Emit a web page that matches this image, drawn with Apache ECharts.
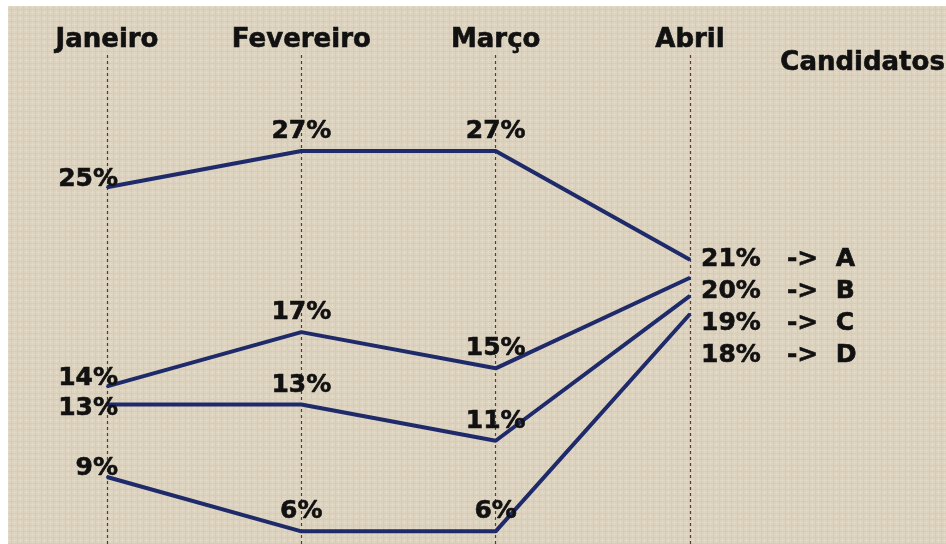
<!DOCTYPE html>
<html>
<head>
<meta charset="utf-8">
<script src="https://cdn.jsdelivr.net/npm/echarts@6/dist/echarts.min.js"></script>
<style>
  html, body { margin: 0; padding: 0; background: #fff; }
  #chart { position: absolute; left: 8px; top: 6px; width: 938px; height: 538px; }
</style>
</head>
<body>
<div id="chart"></div>
<script>
// months across the top
var months = ['Janeiro', 'Fevereiro', 'Março', 'Abril'];
// candidates
var candidates = ['A', 'B', 'C', 'D'];
// percentages per candidate, Jan..Abr
var serieA = [25, 27, 27, 21];
var serieB = [14, 17, 15, 20];
var serieC = [13, 13, 11, 19];
var serieD = [9, 6, 6, 18];
var allSeries = [serieA, serieB, serieC, serieD];

// paper-like texture behind the chart
function makeTexture() {
  var c = document.createElement('canvas');
  c.width = 6; c.height = 6;
  var ctx = c.getContext('2d');
  ctx.fillStyle = '#dcd2be';
  ctx.fillRect(0, 0, 6, 6);
  ctx.fillStyle = '#e1d8c6';
  ctx.fillRect(0, 0, 6, 1);
  ctx.fillRect(0, 0, 1, 6);
  ctx.fillStyle = '#d7ccb8';
  ctx.fillRect(0, 3, 6, 1);
  ctx.fillRect(3, 0, 1, 6);
  return c.toDataURL();
}
document.getElementById('chart').style.background = 'url(' + makeTexture() + ') repeat';

var font = 'DejaVu Sans';
var textColor = '#111';
var lineColor = '#1f2a6a';

// label placement depends on the month column
// dy = extra vertical shift used to keep stacked labels apart
function labelFor(i, name, dy) {
  var base = {
    show: true,
    fontFamily: font,
    fontWeight: 'bold',
    fontSize: 25,
    color: textColor,
    textBorderColor: textColor,
    textBorderWidth: 0.6
  };
  if (i === 0) {
    base.position = 'left';
    base.distance = 0;
    base.offset = [12, -8 + dy];
    base.formatter = '{c}%';
  } else if (i === 3) {
    base.position = 'right';
    base.distance = 10;
    base.offset = [0, dy];
    base.formatter = '{c}%   ->  ' + name;
  } else {
    base.position = 'top';
    base.distance = 6;
    base.formatter = '{c}%';
  }
  return base;
}

function buildSeries(shifts) {
  return allSeries.map(function (vals, s) {
    return {
      name: candidates[s],
      type: 'line',
      symbol: 'circle',
      symbolSize: 2,
      showSymbol: true,
      itemStyle: { color: lineColor },
      lineStyle: { color: lineColor, width: 4 },
      data: vals.map(function (v, i) {
        var dy = shifts && shifts[i] ? shifts[i][s] : 0;
        return { value: v, label: labelFor(i, candidates[s], dy) };
      })
    };
  });
}

var chart = echarts.init(document.getElementById('chart'), null, {renderer: 'canvas'});

var option = {
  backgroundColor: 'transparent',
  animation: false,
  grid: {
    left: 99,
    right: 256,
    top: 49,
    bottom: 0
  },
  xAxis: {
    type: 'category',
    position: 'top',
    data: months,
    boundaryGap: false,
    axisLine: { show: false },
    axisTick: { show: false },
    axisLabel: {
      margin: 2,
      fontFamily: font,
      fontWeight: 'bold',
      fontSize: 26,
      color: textColor,
      textBorderColor: textColor,
      textBorderWidth: 0.6
    },
    splitLine: {
      show: true,
      lineStyle: { color: '#5c3a30', width: 1.2, type: [3, 3] }
    }
  },
  yAxis: {
    type: 'value',
    min: 5.3,
    max: 32.3,
    show: false,
    splitLine: { show: false }
  },
  graphic: [{
    type: 'text',
    left: 772,
    top: 44,
    style: {
      text: 'Candidatos',
      font: 'bold 26px "DejaVu Sans"',
      fill: textColor,
      stroke: textColor,
      lineWidth: 0.6
    }
  }],
  series: buildSeries(null)
};

chart.setOption(option);

// push labels of one column downwards so they keep a minimum gap
function spreadColumn(i, gap) {
  var items = allSeries.map(function (vals, s) {
    return { s: s, y: chart.convertToPixel({ gridIndex: 0 }, [i, vals[i]])[1] };
  });
  items.sort(function (a, b) { return a.y - b.y; });
  var out = [];
  var last = -Infinity;
  items.forEach(function (it) {
    var y = Math.max(it.y, last + gap);
    out[it.s] = y - it.y;
    last = y;
  });
  return out;
}

var shifts = {};
shifts[0] = spreadColumn(0, 30);
shifts[3] = spreadColumn(3, 32);
chart.setOption({ series: buildSeries(shifts) });
</script>
</body>
</html>
